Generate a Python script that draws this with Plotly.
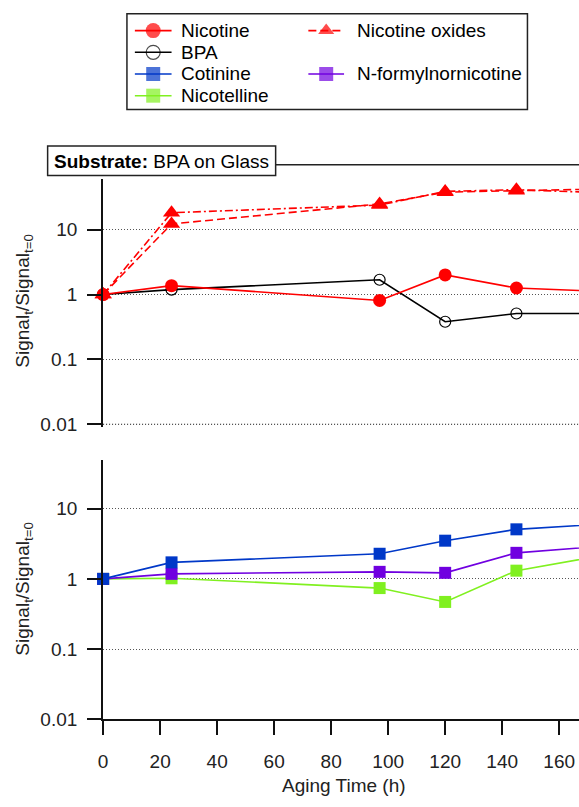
import plotly.graph_objects as go

# ---------------- data ----------------
time_h = [0, 24, 97, 120, 145, 192]
nicotine = [1, 1.37, 0.81, 2.01, 1.26, 1.04]
bpa = [1, 1.19, 1.69, 0.38, 0.51, 0.51]
nic_oxides_a = [1, 12.3, 25, 38, 40, 44]
nic_oxides_b = [1, 18.3, 24, 39, 41.5, 35]
cotinine = [1, 1.72, 2.28, 3.50, 5.08, 6.67]
nformylnornicotine = [1, 1.18, 1.26, 1.22, 2.35, 3.31]
nicotelline = [1, 1.02, 0.74, 0.47, 1.31, 2.83]

x_ticks = [0, 20, 40, 60, 80, 100, 120, 140, 160]
y_ticks = [0.01, 0.1, 1, 10]
y_ticktext = ["0.01", "0.1", "1", "10"]

W, H = 579, 807
FONT = "Liberation Sans, Arial, sans-serif"
RED, BLACK, BLUE, PURPLE, LIME = "#FF0000", "#000000", "#0038C8", "#7000E0", "#80F020"
DASH = "8px,4px"
DASHDOT = "8px,3px,2px,3px"
GRID = "1px,2px"

def py(p):  # pixel row -> paper
    return (H - p) / H

fig = go.Figure()

def add(y, color, symbol, dash, panel, open_marker=False, size=12):
    ax = ("x", "y") if panel == 1 else ("x2", "y2")
    fig.add_trace(go.Scatter(
        x=time_h, y=y, mode="lines+markers", xaxis=ax[0], yaxis=ax[1],
        line=dict(color=color, width=1.6, dash=dash),
        marker=dict(symbol=symbol, size=size,
                    color="rgba(0,0,0,0)" if open_marker else color,
                    line=dict(color=color, width=1.2 if open_marker else 0)),
        cliponaxis=False, showlegend=False, hoverinfo="skip"))

add(nic_oxides_a, RED, "triangle-up", DASH, 1, size=15)
add(nic_oxides_b, RED, "triangle-up", DASHDOT, 1, size=15)
add(bpa, BLACK, "circle", "solid", 1, open_marker=True, size=11)
add(nicotine, RED, "circle", "solid", 1, size=13)
add(nicotelline, LIME, "square", "solid", 2)
add(nformylnornicotine, PURPLE, "square", "solid", 2)
add(cotinine, BLUE, "square", "solid", 2)

# ---------------- legend (drawn in a pixel-space overlay axis) ----------------
legend_items = [
    ("Nicotine", RED, "circle", "solid", False, 0, 0),
    ("Nicotine oxides", RED, "triangle-up", DASH, False, 1, 0),
    ("BPA", BLACK, "circle", "solid", True, 0, 1),
    ("Cotinine", BLUE, "square", "solid", False, 0, 2),
    ("N-formylnornicotine", PURPLE, "square", "solid", False, 1, 2),
    ("Nicotelline", LIME, "square", "solid", False, 0, 3),
]
col_line = [(131, 168), (306, 342)]
col_text = [176, 353]
row_y = [31, 53, 75, 97]
annotations = []
for name, color, sym, dash, op, c, r in legend_items:
    x0, x1 = col_line[c]
    yy = row_y[r]
    fig.add_trace(go.Scatter(
        x=[x0, (x0 + x1) / 2, x1], y=[yy, yy, yy], xaxis="x3", yaxis="y3",
        mode="lines+markers", line=dict(color=color, width=1.6, dash=dash),
        marker=dict(symbol=sym, size=[0, 14 if sym != "circle" or op else 15, 0],
                    color="rgba(0,0,0,0)" if op else color,
                    line=dict(color=color, width=1.2 if op else 0)),
        cliponaxis=False, showlegend=False, hoverinfo="skip"))
    annotations.append(dict(x=col_text[c], y=yy, xref="x3", yref="y3", text=name,
                            showarrow=False, xanchor="left", yanchor="middle",
                            font=dict(family=FONT, size=19, color="black")))

shapes = [
    dict(type="rect", xref="x3", yref="y3", x0=123, x1=527, y0=14, y1=111,
         line=dict(color="#222", width=1.5), fillcolor="rgba(0,0,0,0)", layer="below"),
    dict(type="line", xref="x3", yref="y3", x0=273, x1=579, y0=167, y1=167,
         line=dict(color="#222", width=1.5)),
    dict(type="rect", xref="x3", yref="y3", x0=43, x1=273, y0=148, y1=178,
         line=dict(color="#222", width=1.5), fillcolor="white"),
    # lowest gridline of the top panel
    dict(type="line", xref="x domain", yref="y", x0=0, x1=1, y0=y_ticks[0], y1=y_ticks[0],
         line=dict(color="#555", width=1, dash=GRID), layer="above"),
]
annotations += [
    dict(x=158, y=163.5, xref="x3", yref="y3", text="<b>Substrate:</b> BPA on Glass",
         showarrow=False, xanchor="center", yanchor="middle",
         font=dict(family=FONT, size=19, color="black")),
    dict(x=342, y=796, xref="x3", yref="y3", text="Aging Time (h)",
         showarrow=False, xanchor="center", yanchor="middle",
         font=dict(family=FONT, size=19, color="#222")),
    dict(x=19, y=305, xref="x3", yref="y3", text="Signal<sub>t</sub>/Signal<sub>t=0</sub>",
         showarrow=False, textangle=-90, xanchor="center", yanchor="middle",
         font=dict(family=FONT, size=19, color="#222")),
    dict(x=19, y=597, xref="x3", yref="y3", text="Signal<sub>t</sub>/Signal<sub>t=0</sub>",
         showarrow=False, textangle=-90, xanchor="center", yanchor="middle",
         font=dict(family=FONT, size=19, color="#222")),
]

xdom = [99 / W, 1]
xrange_ = [0, 480 / 2.875]
tickfont = dict(family=FONT, size=19, color="#222")
yaxis_common = dict(type="log", tickvals=y_ticks, ticktext=y_ticktext, showline=True,
                    linecolor="#111", linewidth=2, ticks="outside", ticklen=14, tickwidth=2,
                    tickcolor="#111", tickfont=tickfont, showgrid=True, gridcolor="#555",
                    griddash=GRID, gridwidth=1, zeroline=False, ticklabelstandoff=6,
                    fixedrange=True)

# top panel: 65.7 px per decade; extend slightly below 0.01 so its gridline is inside
top_lo = -2.05
fig.update_layout(
    width=W, height=H, margin=dict(l=0, r=0, t=0, b=0),
    paper_bgcolor="white", plot_bgcolor="rgba(0,0,0,0)",
    showlegend=False, annotations=annotations, shapes=shapes,
    xaxis=dict(domain=xdom, range=xrange_, anchor="y", showticklabels=False, showline=False,
               ticks="", showgrid=False, zeroline=False),
    yaxis=dict(domain=[py(430 + 0.05 * 65.7), py(181)], range=[top_lo, 1.79], anchor="x",
               **yaxis_common),
    xaxis2=dict(domain=xdom, range=xrange_, anchor="y2", tickvals=x_ticks, showline=True,
                linecolor="#111", linewidth=2, ticks="outside", ticklen=14, tickwidth=2,
                tickcolor="#111", tickfont=tickfont, showgrid=False, zeroline=False,
                ticklabelstandoff=10),
    yaxis2=dict(domain=[py(729.3), py(466)], range=[-2, 1.698], anchor="x2", **yaxis_common),
    xaxis3=dict(domain=[0, 1], range=[0, W], anchor="y3", visible=False),
    yaxis3=dict(domain=[0, 1], range=[H, 0], anchor="x3", visible=False),
)

fig.write_html("out.html")
